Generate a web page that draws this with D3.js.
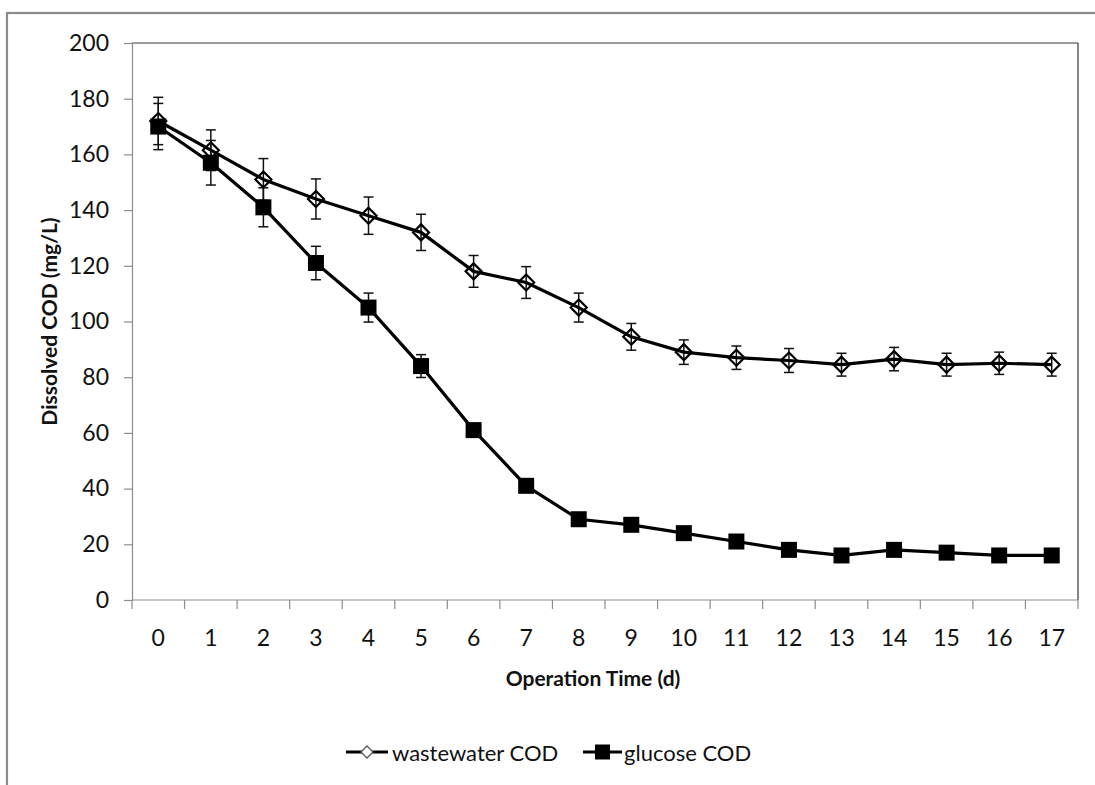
<!DOCTYPE html>
<html>
<head>
<meta charset="utf-8">
<script src="https://cdn.jsdelivr.net/npm/d3@7"></script>
<style>
  html, body { margin: 0; padding: 0; background: #fff; }
  svg { display: block; font-family: Lato, "Open Sans", sans-serif; }
</style>
</head>
<body>
<svg id="chart" width="1095" height="785"></svg>
<script>
// Operation days (categories)
const days = ["0","1","2","3","4","5","6","7","8","9","10","11","12","13","14","15","16","17"];
// Dissolved COD, mg/L
const wastewaterCOD = [172, 161.5, 151, 144, 138, 132, 118, 114, 105, 94.5, 89, 87, 86, 84.5, 86.5, 84.5, 85, 84.5];
const wastewaterErr = [8.5, 7.3, 7.5, 7.2, 6.7, 6.5, 5.7, 5.7, 5.2, 4.8, 4.4, 4.2, 4.3, 4.1, 4.2, 4.1, 4, 4.1];
const glucoseCOD = [170, 157, 141, 121, 105, 84, 61, 41, 29, 27, 24, 21, 18, 16, 18, 17, 16, 16];
const glucoseErr = [8.3, 8, 7, 6, 5.2, 4.1, 2, 1.5, 1.5, 1, 1, 1, 1, 1, 1, 1, 1, 1];
const yTicks = [0, 20, 40, 60, 80, 100, 120, 140, 160, 180, 200];

const svg = d3.select("#chart");
const plot = { left: 132, right: 1078, top: 43, bottom: 600 };

// outer chart frame
svg.append("rect")
  .attr("x", 7).attr("y", 13).attr("width", 1110).attr("height", 800)
  .attr("fill", "none").attr("stroke", "#8a8a8a").attr("stroke-width", 2.2);

const x = d3.scaleBand().domain(days).range([plot.left, plot.right]).padding(0);
const y = d3.scaleLinear().domain([0, 200]).range([plot.bottom, plot.top]);

// plot-area border (top and right)
svg.append("line")
  .attr("x1", plot.left).attr("x2", plot.right).attr("y1", plot.top).attr("y2", plot.top)
  .attr("stroke", "#7a7a7a").attr("stroke-width", 1.6);
svg.append("line")
  .attr("x1", plot.right).attr("x2", plot.right).attr("y1", plot.top).attr("y2", plot.bottom)
  .attr("stroke", "#333").attr("stroke-width", 1.2);

// y axis
const yAxis = svg.append("g")
  .attr("transform", `translate(${plot.left},0)`)
  .call(d3.axisLeft(y).tickValues(yTicks).tickSize(8).tickPadding(15));
yAxis.select(".domain").attr("stroke", "#8c8c8c").attr("stroke-width", 1.2);
yAxis.selectAll(".tick line").attr("stroke", "#8c8c8c").attr("stroke-width", 1.2);
yAxis.selectAll(".tick text").attr("font-size", 23).attr("fill", "#111")
  .attr("font-family", "Lato, sans-serif");

// x axis: ticks between categories, labels centred in bands
const xAxisG = svg.append("g").attr("transform", `translate(0,${plot.bottom})`);
xAxisG.append("line")
  .attr("x1", plot.left).attr("x2", plot.right).attr("y1", 0).attr("y2", 0)
  .attr("stroke", "#8c8c8c").attr("stroke-width", 1.2);
const bounds = days.map(d => x(d)).concat([plot.right]);
xAxisG.selectAll("line.tk").data(bounds).join("line").attr("class", "tk")
  .attr("x1", d => d).attr("x2", d => d).attr("y1", 0).attr("y2", 9)
  .attr("stroke", "#8c8c8c").attr("stroke-width", 1.2);
xAxisG.selectAll("text").data(days).join("text")
  .attr("x", d => x(d) + x.bandwidth() / 2).attr("y", 46)
  .attr("text-anchor", "middle").attr("font-size", 23).attr("fill", "#111")
  .text(d => d);

// axis titles
svg.append("text")
  .attr("x", 593).attr("y", 686).attr("text-anchor", "middle")
  .attr("font-size", 21).attr("font-weight", "bold").attr("fill", "#111")
  .text("Operation Time (d)");
svg.append("text")
  .attr("transform", `translate(57,${(plot.top + plot.bottom) / 2}) rotate(-90)`)
  .attr("text-anchor", "middle")
  .attr("font-size", 21).attr("font-weight", "bold").attr("fill", "#111")
  .text("Dissolved COD (mg/L)");

const cx = d => x(d) + x.bandwidth() / 2;
const series = [
  { name: "wastewater COD", values: wastewaterCOD, err: wastewaterErr, marker: "diamond" },
  { name: "glucose COD", values: glucoseCOD, err: glucoseErr, marker: "square" }
];

const diamondPath = s => `M0,${-s}L${s},0L0,${s}L${-s},0Z`;

series.forEach(s => {
  const g = svg.append("g");
  const pts = days.map((d, i) => ({ d, v: s.values[i], e: s.err[i] }));

  // error bars
  const eb = g.append("g").attr("stroke", "#111").attr("stroke-width", 1.5);
  pts.forEach(p => {
    const X = cx(p.d);
    eb.append("line").attr("x1", X).attr("x2", X).attr("y1", y(p.v + p.e)).attr("y2", y(p.v - p.e));
    eb.append("line").attr("x1", X - 5).attr("x2", X + 5).attr("y1", y(p.v + p.e)).attr("y2", y(p.v + p.e));
    eb.append("line").attr("x1", X - 5).attr("x2", X + 5).attr("y1", y(p.v - p.e)).attr("y2", y(p.v - p.e));
  });

  // series line
  g.append("path").datum(pts)
    .attr("d", d3.line().x(p => cx(p.d)).y(p => y(p.v)))
    .attr("fill", "none").attr("stroke", "#000").attr("stroke-width", 3.2)
    .attr("stroke-linejoin", "round");

  // markers
  if (s.marker === "diamond") {
    g.selectAll("path.mk").data(pts).join("path").attr("class", "mk")
      .attr("transform", p => `translate(${cx(p.d)},${y(p.v)})`)
      .attr("d", diamondPath(8))
      .attr("fill", "none").attr("stroke", "#000").attr("stroke-width", 2.2);
  } else {
    g.selectAll("rect.mk").data(pts).join("rect").attr("class", "mk")
      .attr("x", p => cx(p.d) - 8).attr("y", p => y(p.v) - 8)
      .attr("width", 16).attr("height", 16).attr("fill", "#000");
  }
});

// legend
const legY = 752;
const leg1 = svg.append("g");
leg1.append("line").attr("x1", 346).attr("x2", 388).attr("y1", legY).attr("y2", legY)
  .attr("stroke", "#000").attr("stroke-width", 3.2);
leg1.append("path").attr("transform", `translate(367,${legY})`).attr("d", diamondPath(6))
  .attr("fill", "#fff").attr("stroke", "#555").attr("stroke-width", 1.3);
leg1.append("text").attr("x", 392).attr("y", legY + 9).attr("font-size", 22).attr("fill", "#111")
  .text("wastewater COD");

const leg2 = svg.append("g");
leg2.append("line").attr("x1", 583).attr("x2", 622).attr("y1", legY).attr("y2", legY)
  .attr("stroke", "#000").attr("stroke-width", 3.2);
leg2.append("rect").attr("x", 595).attr("y", legY - 7.5).attr("width", 15).attr("height", 15).attr("fill", "#000");
leg2.append("text").attr("x", 624).attr("y", legY + 9).attr("font-size", 22).attr("fill", "#111")
  .text("glucose COD");
</script>
</body>
</html>
